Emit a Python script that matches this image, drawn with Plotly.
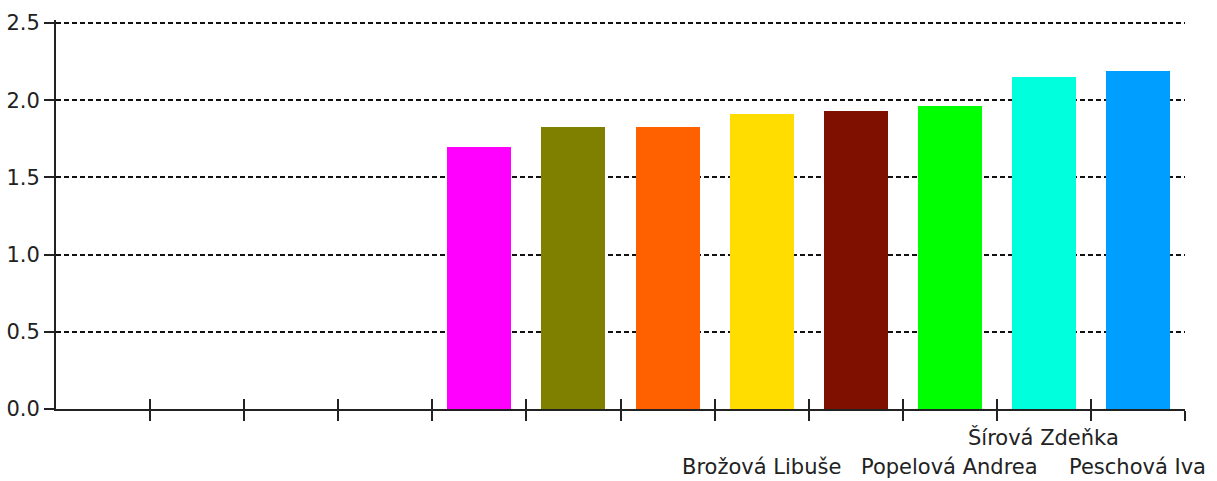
import plotly.graph_objects as go

# Twelve category slots; only the last eight hold a value
slots = list(range(12))
labels = ["", "", "", "", "", "", "", "Brožová Libuše", "", "Popelová Andrea",
          "Šírová Zdeňka", "Peschová Iva"]
label_rows = [0, 0, 0, 0, 0, 0, 0, 2, 0, 2, 1, 2]
values = [None, None, None, None, 1.70, 1.83, 1.83, 1.91, 1.93, 1.96, 2.15, 2.19]
colors = ["#FF00FF", "#FF00FF", "#FF00FF", "#FF00FF", "#FF00FF", "#808000",
          "#FF6000", "#FFDD00", "#7F1000", "#00FF00", "#00FFDD", "#009FFF"]
y_ticks = [0.0, 0.5, 1.0, 1.5, 2.0, 2.5]

FONT = "DejaVu Sans"
AXIS = "#222222"

fig = go.Figure()
fig.add_trace(go.Bar(
    x=slots, y=values, width=0.68,
    marker=dict(color=colors, line=dict(width=0)),
    showlegend=False, hoverinfo="skip",
))
# invisible helper trace so the overlay axis (inner tick halves) is drawn
fig.add_trace(go.Scatter(x=[0], y=[0], xaxis="x2", mode="markers",
                         marker=dict(opacity=0), showlegend=False, hoverinfo="skip"))

boundaries = [s + 0.5 for s in slots]

fig.update_layout(
    width=1217, height=481,
    margin=dict(l=56, r=32, t=20, b=72, autoexpand=False),
    paper_bgcolor="white", plot_bgcolor="white",
    font=dict(family=FONT, size=21, color="#222222"),
    bargap=0,
    xaxis=dict(
        range=[-0.5, 11.5], tickmode="array", tickvals=boundaries,
        ticktext=[""] * len(boundaries), ticks="outside", ticklen=10,
        tickwidth=2, tickcolor=AXIS, showgrid=False, zeroline=False,
        showline=True, linecolor=AXIS, linewidth=2, fixedrange=True,
        automargin=False,
    ),
    xaxis2=dict(
        overlaying="x", anchor="y", range=[-0.5, 11.5], tickmode="array",
        tickvals=boundaries, ticktext=[""] * len(boundaries), ticks="inside",
        ticklen=10, tickwidth=2, tickcolor=AXIS, showgrid=False,
        zeroline=False, showline=False, side="bottom", automargin=False,
    ),
    yaxis=dict(
        range=[0, 2.52], tickmode="array", tickvals=y_ticks,
        ticktext=[f"{v:.1f}" for v in y_ticks], ticks="outside", ticklen=10,
        tickwidth=2, tickcolor=AXIS, showline=True, linecolor=AXIS,
        linewidth=2, zeroline=False, showgrid=True, gridcolor="#111111",
        gridwidth=2, griddash="5px,3px", tickfont=dict(size=21),
        ticklabelstandoff=0, fixedrange=True, automargin=False,
    ),
)

# category names, staggered in two rows below the axis
row_shift = {1: -28, 2: -58}
for s, name, row in zip(slots, labels, label_rows):
    if name:
        fig.add_annotation(
            x=s, y=0, xref="x", yref="paper", text=name, showarrow=False,
            yanchor="middle", xanchor="center", yshift=row_shift[row],
            font=dict(family=FONT, size=21, color="#222222"),
        )

fig.write_html("out.html")
